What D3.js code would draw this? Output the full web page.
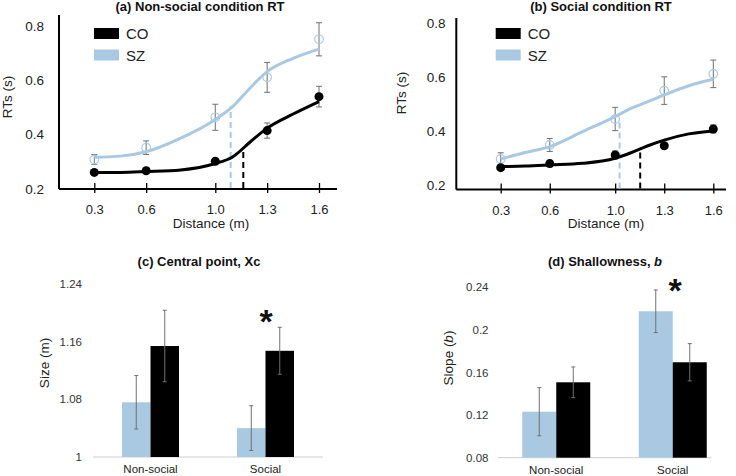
<!DOCTYPE html>
<html><head><meta charset="utf-8">
<script src="https://cdn.jsdelivr.net/npm/d3@7"></script>
<style>
html,body{margin:0;padding:0;background:#fff;}
svg{display:block;font-family:"Liberation Sans",Arial,Helvetica,sans-serif;}
</style></head>
<body><svg id="chart" width="736" height="476"></svg>
<script>
// ---------- data ----------
const distances = [0.3, 0.6, 1.0, 1.3, 1.6];
const distTicks = ["0.3", "0.6", "1.0", "1.3", "1.6"];
const rtTicks = [0.2, 0.4, 0.6, 0.8];

const nsCO = [0.261, 0.267, 0.302, 0.415, 0.540];
const nsCOerr = [0.006, 0.006, 0.006, 0.028, 0.038];
const nsSZ = [0.309, 0.352, 0.464, 0.611, 0.751];
const nsSZerr = [0.018, 0.025, 0.048, 0.055, 0.061];

const sCO = [0.266, 0.281, 0.313, 0.347, 0.409];
const sCOerr = [0.006, 0.012, 0.015, 0.010, 0.015];
const sSZ = [0.298, 0.350, 0.446, 0.551, 0.613];
const sSZerr = [0.023, 0.024, 0.043, 0.051, 0.051];

// fitted curves
const fitX = [0.3, 0.45, 0.6, 0.8, 1.0, 1.1, 1.2, 1.3, 1.45, 1.6];
const nsCOfit = [0.261, 0.261, 0.264, 0.270, 0.294, 0.318, 0.372, 0.424, 0.476, 0.522];
const nsSZfit = [0.317, 0.321, 0.337, 0.387, 0.456, 0.503, 0.571, 0.632, 0.681, 0.715];
const sCOfit = [0.270, 0.272, 0.276, 0.282, 0.301, 0.322, 0.347, 0.368, 0.391, 0.402];
const sSZfit = [0.298, 0.322, 0.344, 0.399, 0.455, 0.486, 0.510, 0.535, 0.569, 0.593];

// central points (dashed markers): [x, y-top]
const nsXcSZ = [1.089, 0.505];
const nsXcCO = [1.162, 0.350];
const sXcSZ = [1.027, 0.449];
const sXcCO = [1.153, 0.331];

const groups = ["Non-social", "Social"];
const series = ["SZ", "CO"];
const xcSZ = [1.0757, 1.040];
const xcSZerr = [0.037, 0.031];
const xcCO = [1.1536, 1.147];
const xcCOerr = [0.0495, 0.0325];
const xcTicks = [1, 1.08, 1.16, 1.24];

const slSZ = [0.1232, 0.2175];
const slSZerr = [0.0226, 0.020];
const slCO = [0.1508, 0.1696];
const slCOerr = [0.0144, 0.0175];
const slTicks = [0.08, 0.12, 0.16, 0.2, 0.24];

// ---------- styles ----------
const BLUE = "#a9c9e2";
const BLACK = "#000";
const ERR = "#707070";
const TXT = "#222";
const FONT = '"Liberation Sans",Arial,Helvetica,sans-serif';

const svg = d3.select("#chart");

function linePanel(opt) {
  const g = svg.append("g");
  const x = d3.scaleLinear().domain([0.3, 1.6]).range(opt.xr);
  const y = d3.scaleLinear().domain([0.2, 0.8]).range(opt.yr);
  // axes
  g.append("line").attr("x1", opt.axX).attr("x2", opt.axX).attr("y1", opt.axTop).attr("y2", opt.axY)
    .attr("stroke", "#000").attr("stroke-width", 2);
  g.append("line").attr("x1", opt.axX).attr("x2", opt.axRight).attr("y1", opt.axY).attr("y2", opt.axY)
    .attr("stroke", "#000").attr("stroke-width", 2);
  const xa = g.append("g").attr("transform", `translate(0,${opt.axY})`)
    .call(d3.axisBottom(x).tickValues(distances).tickFormat((d, i) => distTicks[i]).tickSize(4).tickPadding(10))
    .attr("font-family", FONT);
  xa.select(".domain").remove();
  xa.selectAll(".tick line").attr("y1", -6).attr("y2", 4).attr("stroke", "#000").attr("stroke-width", 1.3);
  xa.selectAll("text").attr("font-size", 13).attr("fill", TXT).attr("dy", null).attr("y", 25);
  const ya = g.append("g").attr("transform", `translate(${opt.labR},0)`)
    .call(d3.axisLeft(y).tickValues(rtTicks).tickFormat(d3.format(".1f")).tickSize(0).tickPadding(0))
    .attr("font-family", FONT);
  ya.select(".domain").remove();
  ya.selectAll("text").attr("font-size", 13.5).attr("fill", TXT);
  // titles
  g.append("text").attr("x", opt.titleX).attr("y", 11).attr("text-anchor", "middle")
    .attr("font-size", 13).attr("font-weight", "bold").attr("fill", "#111").text(opt.title);
  g.append("text").attr("transform", `translate(${opt.ytX},${opt.ytY}) rotate(-90)`)
    .attr("text-anchor", "middle").attr("font-size", 13.5).attr("fill", TXT).text("RTs (s)");
  g.append("text").attr("x", opt.xtX).attr("y", 228).attr("text-anchor", "middle")
    .attr("font-size", 13.5).attr("fill", TXT).text("Distance (m)");
  // legend
  const lg = g.append("g");
  [["CO", BLACK], ["SZ", BLUE]].forEach((d, i) => {
    lg.append("rect").attr("x", opt.legX).attr("y", 28 + i * 21.5).attr("width", 25).attr("height", 11).attr("fill", d[1]);
    lg.append("text").attr("x", opt.legX + 32).attr("y", 39 + i * 21.5).attr("font-size", 15)
      .attr("fill", TXT).text(d[0]);
  });
  // dashed central points
  [[opt.xcSZ, BLUE], [opt.xcCO, BLACK]].forEach(d => {
    g.append("line").attr("x1", x(d[0][0])).attr("x2", x(d[0][0])).attr("y1", opt.axY - 1).attr("y2", y(d[0][1]))
      .attr("stroke", d[1]).attr("stroke-width", 2).attr("stroke-dasharray", "6,4");
  });
  // error bars
  const eb = (vals, errs) => {
    vals.forEach((v, i) => {
      const cx = x(distances[i]);
      g.append("path").attr("d",
        `M${cx},${y(v + errs[i])}V${y(v - errs[i])}M${cx - 3},${y(v + errs[i])}H${cx + 3}M${cx - 3},${y(v - errs[i])}H${cx + 3}`)
        .attr("stroke", ERR).attr("stroke-width", 1).attr("fill", "none");
    });
  };
  eb(opt.sz, opt.szErr);
  eb(opt.co, opt.coErr);
  // curves
  const line = d3.line().x(d => x(d[0])).y(d => y(d[1])).curve(d3.curveMonotoneX);
  g.append("path").attr("d", line(fitX.map((v, i) => [v, opt.szFit[i]])))
    .attr("fill", "none").attr("stroke", BLUE).attr("stroke-width", 3);
  g.append("path").attr("d", line(fitX.map((v, i) => [v, opt.coFit[i]])))
    .attr("fill", "none").attr("stroke", BLACK).attr("stroke-width", 3);
  // points
  opt.sz.forEach((v, i) => {
    g.append("circle").attr("cx", x(distances[i])).attr("cy", y(v)).attr("r", 4.3)
      .attr("fill", "none").attr("stroke", BLUE).attr("stroke-width", 1.2);
  });
  opt.co.forEach((v, i) => {
    g.append("circle").attr("cx", x(distances[i])).attr("cy", y(v)).attr("r", 4.5).attr("fill", BLACK);
  });
}

linePanel({
  title: "(a) Non-social condition RT", titleX: 200,
  xr: [94.3, 319], yr: [189, 26], axX: 59, axTop: 15, axY: 189, axRight: 337,
  labR: 44, ytX: 12, ytY: 97, xtX: 211, legX: 94,
  co: nsCO, coErr: nsCOerr, sz: nsSZ, szErr: nsSZerr, coFit: nsCOfit, szFit: nsSZfit,
  xcSZ: nsXcSZ, xcCO: nsXcCO
});
linePanel({
  title: "(b) Social condition RT", titleX: 601,
  xr: [500.7, 713.3], yr: [185.5, 23.3], axX: 456.3, axTop: 18, axY: 189.5, axRight: 726,
  labR: 445.5, ytX: 406, ytY: 93, xtX: 606, legX: 495.7,
  co: sCO, coErr: sCOerr, sz: sSZ, szErr: sSZerr, coFit: sCOfit, szFit: sSZfit,
  xcSZ: sXcSZ, xcCO: sXcCO
});

function barPanel(opt) {
  const g = svg.append("g");
  const x0 = d3.scaleBand().domain(groups).range(opt.xr);
  const bw = x0.bandwidth();
  const x1 = d3.scaleBand().domain(series).range([bw / 2 - opt.barW, bw / 2 + opt.barW]);
  const y = d3.scaleLinear().domain(opt.yd).range(opt.yr);
  // baseline
  g.append("line").attr("x1", opt.xr[0]).attr("x2", opt.baseEnd).attr("y1", y(opt.yd[0])).attr("y2", y(opt.yd[0]))
    .attr("stroke", "#d0d0d0").attr("stroke-width", 1);
  const ya = g.append("g").attr("transform", `translate(${opt.labR},0)`)
    .call(d3.axisLeft(y).tickValues(opt.ticks).tickFormat(d => String(+d.toFixed(2))).tickSize(0).tickPadding(0))
    .attr("font-family", FONT);
  ya.select(".domain").remove();
  ya.selectAll("text").attr("font-size", 11.5).attr("fill", "#333");
  const xa = g.append("g").attr("transform", `translate(0,${y(opt.yd[0])})`)
    .call(d3.axisBottom(x0).tickSize(0).tickPadding(8))
    .attr("font-family", FONT);
  xa.select(".domain").remove();
  xa.selectAll("text").attr("font-size", 11.5).attr("fill", TXT);
  // bars
  const sets = [[opt.sz, opt.szErr, "SZ", BLUE], [opt.co, opt.coErr, "CO", BLACK]];
  sets.forEach(s => {
    s[0].forEach((v, i) => {
      const bx = x0(groups[i]) + x1(s[2]);
      g.append("rect").attr("x", bx).attr("y", y(v)).attr("width", x1.bandwidth())
        .attr("height", y(opt.yd[0]) - y(v)).attr("fill", s[3]);
    });
  });
  sets.forEach(s => {
    s[0].forEach((v, i) => {
      const cx = x0(groups[i]) + x1(s[2]) + x1.bandwidth() / 2;
      const e = s[1][i];
      g.append("path").attr("d",
        `M${cx},${y(v + e)}V${y(v - e)}M${cx - 2},${y(v + e)}H${cx + 2}M${cx - 2},${y(v - e)}H${cx + 2}`)
        .attr("stroke", ERR).attr("stroke-width", 1).attr("fill", "none");
    });
  });
  // asterisk over Social group
  g.append("text").attr("x", opt.starX).attr("y", opt.starY).attr("text-anchor", "middle")
    .attr("font-size", 34).attr("font-weight", "bold").attr("fill", "#111").text("*");
  // titles
  const t = g.append("text").attr("x", opt.titleX).attr("y", 266).attr("text-anchor", "middle")
    .attr("font-size", 13).attr("font-weight", "bold").attr("fill", "#111");
  opt.titleParts.forEach(p => t.append("tspan").attr("font-style", p[1] ? "italic" : null).text(p[0]));
  const yt = g.append("text").attr("transform", `translate(${opt.ytX},${opt.ytY}) rotate(-90)`)
    .attr("text-anchor", "middle").attr("font-size", 13.5).attr("fill", TXT);
  opt.yTitleParts.forEach(p => yt.append("tspan").attr("font-style", p[1] ? "italic" : null).text(p[0]));
}

barPanel({
  xr: [93, 323], baseEnd: 323, barW: 28.5, yd: [1, 1.24], yr: [457, 283.6], ticks: xcTicks,
  labR: 82, sz: xcSZ, szErr: xcSZerr, co: xcCO, coErr: xcCOerr,
  starX: 266, starY: 333, titleX: 199, titleParts: [["(c) Central point, Xc", false]],
  ytX: 49, ytY: 363, yTitleParts: [["Size (m)", false]]
});
barPanel({
  xr: [498, 731], baseEnd: 711, barW: 34, yd: [0.08, 0.24], yr: [457.7, 287.3], ticks: slTicks,
  labR: 488.5, sz: slSZ, szErr: slSZerr, co: slCO, coErr: slCOerr,
  starX: 675, starY: 302, titleX: 605, titleParts: [["(d) Shallowness, ", false], ["b", true]],
  ytX: 453, ytY: 358, yTitleParts: [["Slope (", false], ["b", true], [")", false]]
});
</script>
</body></html>
